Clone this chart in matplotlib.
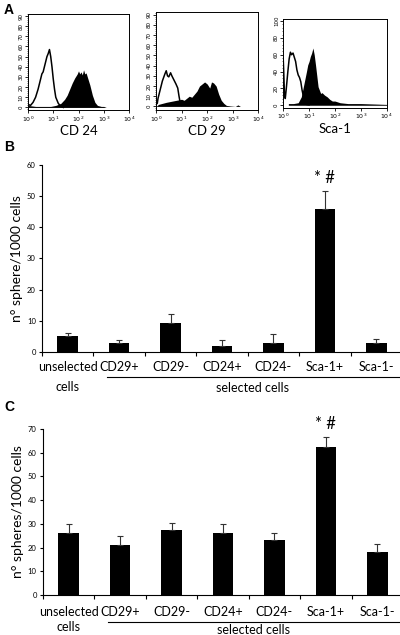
import matplotlib
matplotlib.use("Agg")
import matplotlib.pyplot as plt
import numpy as np

plt.rcParams['font.family'] = ['Lato', 'DejaVu Sans']

# --- panel A: flow histograms (log10 fluorescence, counts) ---
cd24_open_x = [0.0, 0.1, 0.2, 0.3, 0.4, 0.5, 0.55, 0.6, 0.65, 0.7, 0.75, 0.8, 0.85, 0.9, 0.95, 1.0, 1.05, 1.1, 1.2, 1.3, 1.4]
cd24_open_y = [3, 2, 5, 10, 18, 28, 33, 35, 40, 45, 50, 53, 57, 50, 40, 28, 18, 10, 4, 1, 0]
cd24_fill_x = [0.0, 0.3, 0.6, 0.9, 1.1, 1.3, 1.45, 1.55, 1.65, 1.75, 1.85, 1.95, 2.0, 2.05, 2.1, 2.15, 2.2, 2.25, 2.3, 2.35, 2.45, 2.55, 2.65, 2.75, 2.9, 3.0, 3.1]
cd24_fill_y = [2, 1, 1, 1, 2, 4, 8, 12, 18, 24, 29, 33, 36, 33, 35, 32, 37, 33, 34, 30, 22, 12, 5, 2, 1, 1, 0]

cd29_open_x = [0.0, 0.05, 0.08, 0.15, 0.25, 0.35, 0.4, 0.45, 0.5, 0.57, 0.62, 0.7, 0.78, 0.85, 0.9, 0.95, 1.0]
cd29_open_y = [2, 3, 8, 15, 25, 32, 35, 30, 29, 33, 30, 26, 22, 18, 10, 3, 1]
cd29_fill_x = [0.0, 0.1, 0.4, 0.6, 0.8, 1.0, 1.1, 1.2, 1.3, 1.4, 1.5, 1.6, 1.7, 1.8, 1.9, 2.0, 2.1, 2.17, 2.25, 2.35, 2.45, 2.55, 2.65, 2.75, 2.9, 3.1, 3.2, 3.3, 3.5]
cd29_fill_y = [0, 2, 4, 5, 6, 7, 6, 8, 10, 9, 12, 15, 20, 22, 24, 22, 18, 24, 23, 20, 12, 6, 3, 1, 0.5, 0, 1.5, 0, 0]

sca1_open_x = [0.0, 0.02, 0.05, 0.08, 0.12, 0.18, 0.23, 0.28, 0.32, 0.38, 0.43, 0.48, 0.53, 0.58, 0.63, 0.68, 0.73, 0.8, 0.85, 0.9, 1.0]
sca1_open_y = [56, 40, 12, 8, 20, 40, 55, 63, 60, 62, 57, 52, 42, 36, 33, 28, 18, 8, 3, 1, 0.5]
sca1_fill_x = [0.2, 0.4, 0.58, 0.7, 0.8, 0.9, 0.95, 1.0, 1.05, 1.1, 1.15, 1.2, 1.25, 1.3, 1.35, 1.4, 1.45, 1.5, 1.6, 1.7, 1.8, 1.9, 2.0, 2.2, 2.5, 3.0, 3.5, 4.0]
sca1_fill_y = [2, 2, 3, 10, 25, 40, 48, 52, 58, 62, 68, 60, 48, 35, 22, 18, 14, 15, 12, 10, 7, 5, 5, 3, 2, 2, 1.5, 1]

hist_names = ["CD 24", "CD 29", "Sca-1"]

# --- panels B and C: sphere counts ---
categories = ["unselected", "CD29+", "CD29-", "CD24+", "CD24-", "Sca-1+", "Sca-1-"]
b_values = [5.0, 3.0, 9.3, 2.0, 3.0, 46.0, 3.0]
b_errors = [1.2, 0.9, 3.0, 2.0, 2.9, 5.5, 1.1]
c_values = [26.3, 21.2, 27.2, 26.0, 23.4, 62.3, 18.2]
c_errors = [3.5, 3.6, 3.3, 3.8, 2.6, 4.2, 3.3]

fig = plt.figure(figsize=(4.0, 6.35), dpi=100)

hist_data = [
    (cd24_open_x, cd24_open_y, cd24_fill_x, cd24_fill_y, (0, 90, 10), (-3, 92)),
    (cd29_open_x, cd29_open_y, cd29_fill_x, cd29_fill_y, (0, 90, 10), (-4, 92.6)),
    (sca1_open_x, sca1_open_y, sca1_fill_x, sca1_fill_y, (0, 100, 20), (-3.2, 102.4)),
]
hist_pos = [
    [0.07, 0.826, 0.2525, 0.152],
    [0.39, 0.826, 0.2558, 0.155],
    [0.708, 0.830, 0.2585, 0.140],
]
for name, (ox, oy, fx, fy, yt, yl), pos in zip(hist_names, hist_data, hist_pos):
    ax = fig.add_axes(pos)
    ax.fill_between(10 ** np.array(fx), fy, 0, color="black", lw=0)
    ax.plot(10 ** np.array(ox), oy, color="black", lw=1.1)
    ax.set_xscale("log")
    ax.set_xlim(1, 1e4)
    ax.set_ylim(*yl)
    ax.set_xticks([1, 10, 100, 1000, 10000])
    ax.set_xticklabels([r"$10^{%d}$" % i for i in range(5)], fontsize=4.5, family="DejaVu Sans")
    ax.set_yticks(np.arange(yt[0], yt[1] + 1, yt[2]))
    ax.set_yticklabels([str(v) for v in np.arange(yt[0], yt[1] + 1, yt[2])],
                       fontsize=4, rotation=90, va="center", family="DejaVu Sans")
    ax.tick_params(axis="both", length=2, width=0.6, pad=1)
    ax.tick_params(axis="both", which="minor", length=1, width=0.4)
    ax.yaxis.set_minor_locator(matplotlib.ticker.MultipleLocator(yt[2] / 5))
    for s in ax.spines.values():
        s.set_linewidth(0.7)
    ax.set_xlabel(name, fontsize=9.5, labelpad=1)

fig.text(0.01, 0.985, "A", fontsize=10, fontweight="bold", family="Liberation Sans", va="center")
fig.text(0.01, 0.768, "B", fontsize=10, fontweight="bold", family="Liberation Sans", va="center")
fig.text(0.01, 0.359, "C", fontsize=10, fontweight="bold", family="Liberation Sans", va="center")


def bar_panel(pos, values, errors, ymax, ystep, ylabel, lab_pad, cells_y, line_y, sel_y):
    ax = fig.add_axes(pos)
    x = np.arange(len(categories))
    ax.bar(x, values, width=0.4, color="black")
    ax.errorbar(x, values, yerr=[np.zeros(len(errors)), errors], fmt="none",
                ecolor="#333333", elinewidth=0.8, capsize=2.5, capthick=0.8)
    ax.set_xlim(-0.5, 6.5)
    ax.set_ylim(0, ymax)
    ax.set_yticks(np.arange(0, ymax + 1, ystep))
    ax.tick_params(axis="y", labelsize=5.5, length=2.5, width=0.8, pad=2)
    ax.set_xticks(np.arange(-0.5, 6.6, 1.0))
    ax.set_xticklabels([])
    ax.tick_params(axis="x", length=3, width=0.8)
    ax.set_xticks(x, minor=True)
    ax.set_xticklabels(categories, minor=True, fontsize=9)
    ax.tick_params(axis="x", which="minor", length=3, width=0, pad=lab_pad)
    for s in ["top", "right"]:
        ax.spines[s].set_visible(False)
    ax.spines["left"].set_linewidth(0.8)
    ax.spines["bottom"].set_linewidth(0.8)
    ax.set_ylabel(ylabel, fontsize=10, labelpad=3)
    trans = ax.get_xaxis_transform()
    ax.text(0, cells_y, "cells", transform=trans, ha="center", va="center", fontsize=9)
    ax.plot([0.76, 6.55], [line_y, line_y], transform=trans, color="black", lw=0.8, clip_on=False)
    ax.text(3.6, sel_y, "selected cells", transform=trans, ha="center", va="center", fontsize=9)
    top = values[5] + errors[5]
    ax.annotate("* #", (5, top), xytext=(0, 9.7), textcoords="offset points",
                ha="center", va="center", fontsize=12)
    return ax


bar_panel([0.105, 0.4457, 0.9, 0.2945], b_values, b_errors, 60, 10,
          "n° sphere/1000 cells", 3.5, -0.187, -0.134, -0.193)
bar_panel([0.1075, 0.063, 0.9, 0.2614], c_values, c_errors, 70, 10,
          "n° spheres/1000 cells", 5, -0.193, -0.163, -0.211)

fig.savefig("out.png", dpi=100)
